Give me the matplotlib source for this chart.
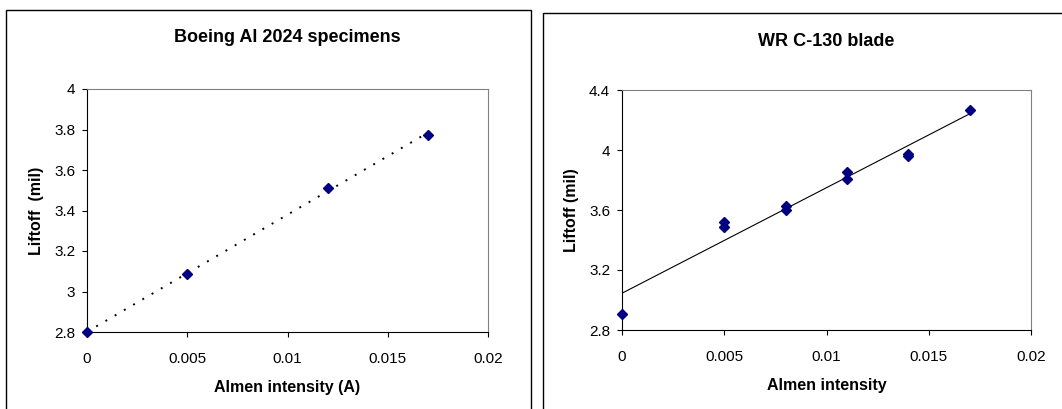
import numpy as np
import matplotlib.pyplot as plt
from matplotlib.ticker import FuncFormatter
from matplotlib.patches import Rectangle

plt.rcParams.update({
    "font.family": ["Liberation Sans", "DejaVu Sans"],
    "font.size": 11,
})

# Boeing Al 2024 specimens
boeing_x = [0.0, 0.005, 0.012, 0.017]
boeing_y = [2.80, 3.085, 3.51, 3.775]

# WR C-130 blade
blade_x = [0.0, 0.005, 0.005, 0.008, 0.008, 0.011, 0.011, 0.014, 0.014, 0.017]
blade_y = [2.905, 3.517, 3.49, 3.628, 3.597, 3.852, 3.808, 3.975, 3.957, 4.266]

W, H = 1062, 409
fig = plt.figure(figsize=(W / 100, H / 100), dpi=100)

def px_axes(x0, y0, x1, y1):
    return fig.add_axes([x0 / W, 1 - y1 / H, (x1 - x0) / W, (y1 - y0) / H])

# panel frames
fig.patches.append(Rectangle((6 / W, -0.1), (531 - 6) / W, 1.1 - 10 / H,
                             transform=fig.transFigure, fill=False,
                             edgecolor="black", linewidth=1.0))
fig.patches.append(Rectangle((543 / W, -0.1), 0.6, 1.1 - 12.7 / H,
                             transform=fig.transFigure, fill=False,
                             edgecolor="black", linewidth=1.0))

gfmt = FuncFormatter(lambda v, p: "%g" % round(v, 4))


def style(ax, ylim, yticks):
    ax.set_xlim(0, 0.02)
    ax.set_ylim(*ylim)
    ax.set_xticks([0, 0.005, 0.01, 0.015, 0.02])
    ax.set_yticks(yticks)
    ax.xaxis.set_major_formatter(gfmt)
    ax.yaxis.set_major_formatter(gfmt)
    ax.spines["top"].set_color("#808080")
    ax.spines["right"].set_color("#808080")
    for s in ["left", "bottom"]:
        ax.spines[s].set_color("black")
    ax.tick_params(direction="out", length=3.5, width=0.8, labelsize=11,
                   top=False, right=False)
    ax.tick_params(axis="x", pad=11)
    ax.tick_params(axis="y", pad=5)


# left chart
ax1 = px_axes(87, 89, 488, 332)
ax1.plot(boeing_x, boeing_y, "D", color="#000080", markersize=5, clip_on=False, zorder=3)
c1 = np.polyfit(boeing_x, boeing_y, 1)
fx = np.array([0.0, max(boeing_x)])
ax1.plot(fx, np.polyval(c1, fx), color="black", linestyle=(0, (1, 4.5)), linewidth=1.4)
style(ax1, (2.8, 4.0), [2.8, 3.0, 3.2, 3.4, 3.6, 3.8, 4.0])
ax1.set_title("Boeing Al 2024 specimens", fontweight="bold", fontsize=13, pad=34)
ax1.set_xlabel("Almen intensity (A)", fontweight="bold", fontsize=11.5, labelpad=10)
ax1.set_ylabel("Liftoff  (mil)", fontweight="bold", fontsize=11.5, labelpad=7)

# right chart
ax2 = px_axes(622, 90, 1031, 330)
ax2.plot(blade_x, blade_y, "D", color="#000080", markersize=5, clip_on=False, zorder=3)
c2 = np.polyfit(blade_x, blade_y, 1)
fx2 = np.array([0.0, max(blade_x)])
ax2.plot(fx2, np.polyval(c2, fx2), color="black", linewidth=0.8)
style(ax2, (2.8, 4.4), [2.8, 3.2, 3.6, 4.0, 4.4])
ax2.set_title("WR C-130 blade", fontweight="bold", fontsize=13, pad=32)
ax2.set_xlabel("Almen intensity", fontweight="bold", fontsize=11.5, labelpad=10)
ax2.set_ylabel("Liftoff (mil)", fontweight="bold", fontsize=11.5, labelpad=7)

fig.savefig("out.png", dpi=100)
